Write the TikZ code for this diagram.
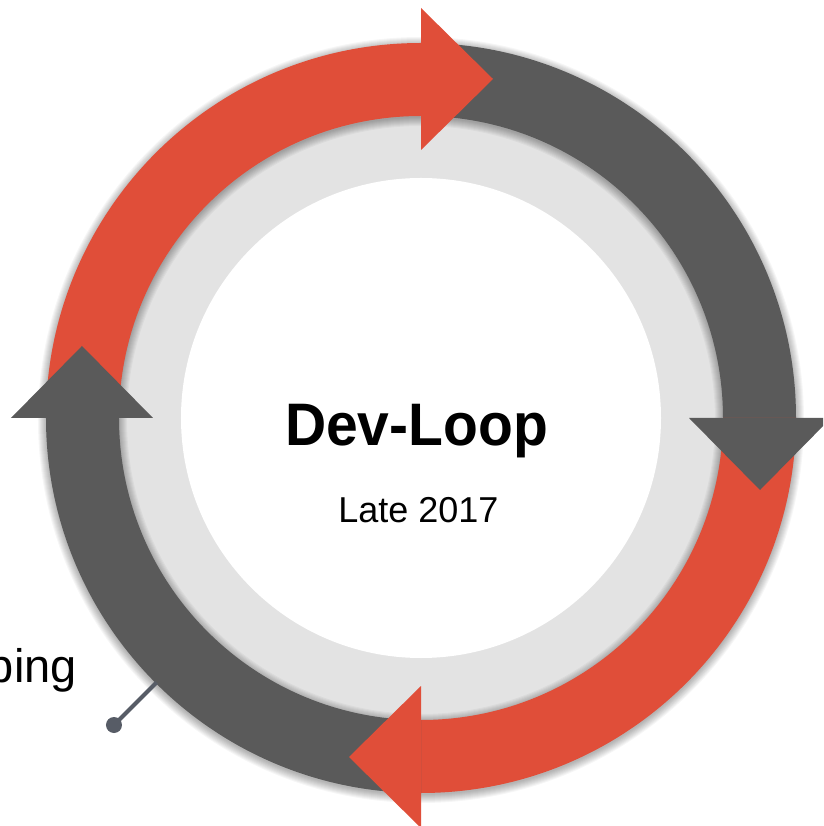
\documentclass[tikz,border=0pt]{standalone}
\usepackage{fontspec}
\setmainfont{Liberation Sans}
\usetikzlibrary{calc}

\definecolor{loopred}{HTML}{E04E39}
\definecolor{loopgray}{HTML}{5A5A5A}
\definecolor{discgray}{HTML}{E3E3E3}
\definecolor{pingray}{HTML}{575C66}

\tikzset{
  redarc/.style={fill=loopred},
  grayarc/.style={fill=loopgray},
  titletext/.style={font=\bfseries\fontsize{60}{60}\selectfont, inner sep=0pt, anchor=base},
  datetext/.style={font=\fontsize{36}{36}\selectfont, inner sep=0pt, anchor=base},
  sidetext/.style={font=\fontsize{47}{47}\selectfont, inner sep=0pt, anchor=base east},
  pindot/.style={circle, fill=pingray, inner sep=0pt, minimum size=16pt},
  pinline/.style={draw=pingray, line width=4pt}
}

% annular sector between two angles on the ring (outer 375, inner 302)
\newcommand{\ringsector}[3]{%
  \fill[#1] (#2:375) arc[start angle=#2, end angle=#3, radius=375]
    -- (#3:302) arc[start angle=#3, end angle=#2, radius=302] -- cycle;}
% arrowhead whose base sits on the ring at angle #2, pointing clockwise
\newcommand{\ringhead}[2]{%
  \fill[#1] (#2:268) -- (#2:410) -- ([shift={(#2-90:72)}]#2:339) -- cycle;}

\begin{document}
\begin{tikzpicture}[x=1pt, y=1pt]
  \path[use as bounding box] (-421,-408) rectangle (402,418);
  \clip (-421,-408) rectangle (402,418);
  \fill[white] (-421,-408) rectangle (402,418);

  % inner discs
  \fill[discgray] (0,0) circle[radius=305];
  \fill[white] (0,0) circle[radius=240];

  % soft shadow around the ring
  \foreach \i in {0,...,8} {
    \fill[black, opacity=0.035, even odd rule]
      (0,-2) circle[radius={375+\i}] (0,-2) circle[radius={302-\i}];
  }

  % the four arcs of the loop
  \ringsector{redarc}{180}{90}
  \ringsector{grayarc}{90}{0}
  \ringsector{redarc}{0}{-90}
  \ringsector{grayarc}{-90}{-180}

  % arrowheads on top of the arcs
  \ringhead{redarc}{90}
  \ringhead{grayarc}{0}
  \ringhead{redarc}{-90}
  \ringhead{grayarc}{180}

  % centre texts
  \node[titletext] (title) at (-4.5,-28) {\scalebox{0.95}[1]{Dev-Loop}};
  \node[datetext] (date) at (-2.5,-105) {Late 2017};

  % side label with its pin
  \node[sidetext] (side) at (-344,-264) {ping};
  \coordinate (ringedge) at (225:374);
  \node[pindot] (dot) at (-307,-307) {};
  \draw[pinline] (ringedge) -- (dot.center);
\end{tikzpicture}
\end{document}
